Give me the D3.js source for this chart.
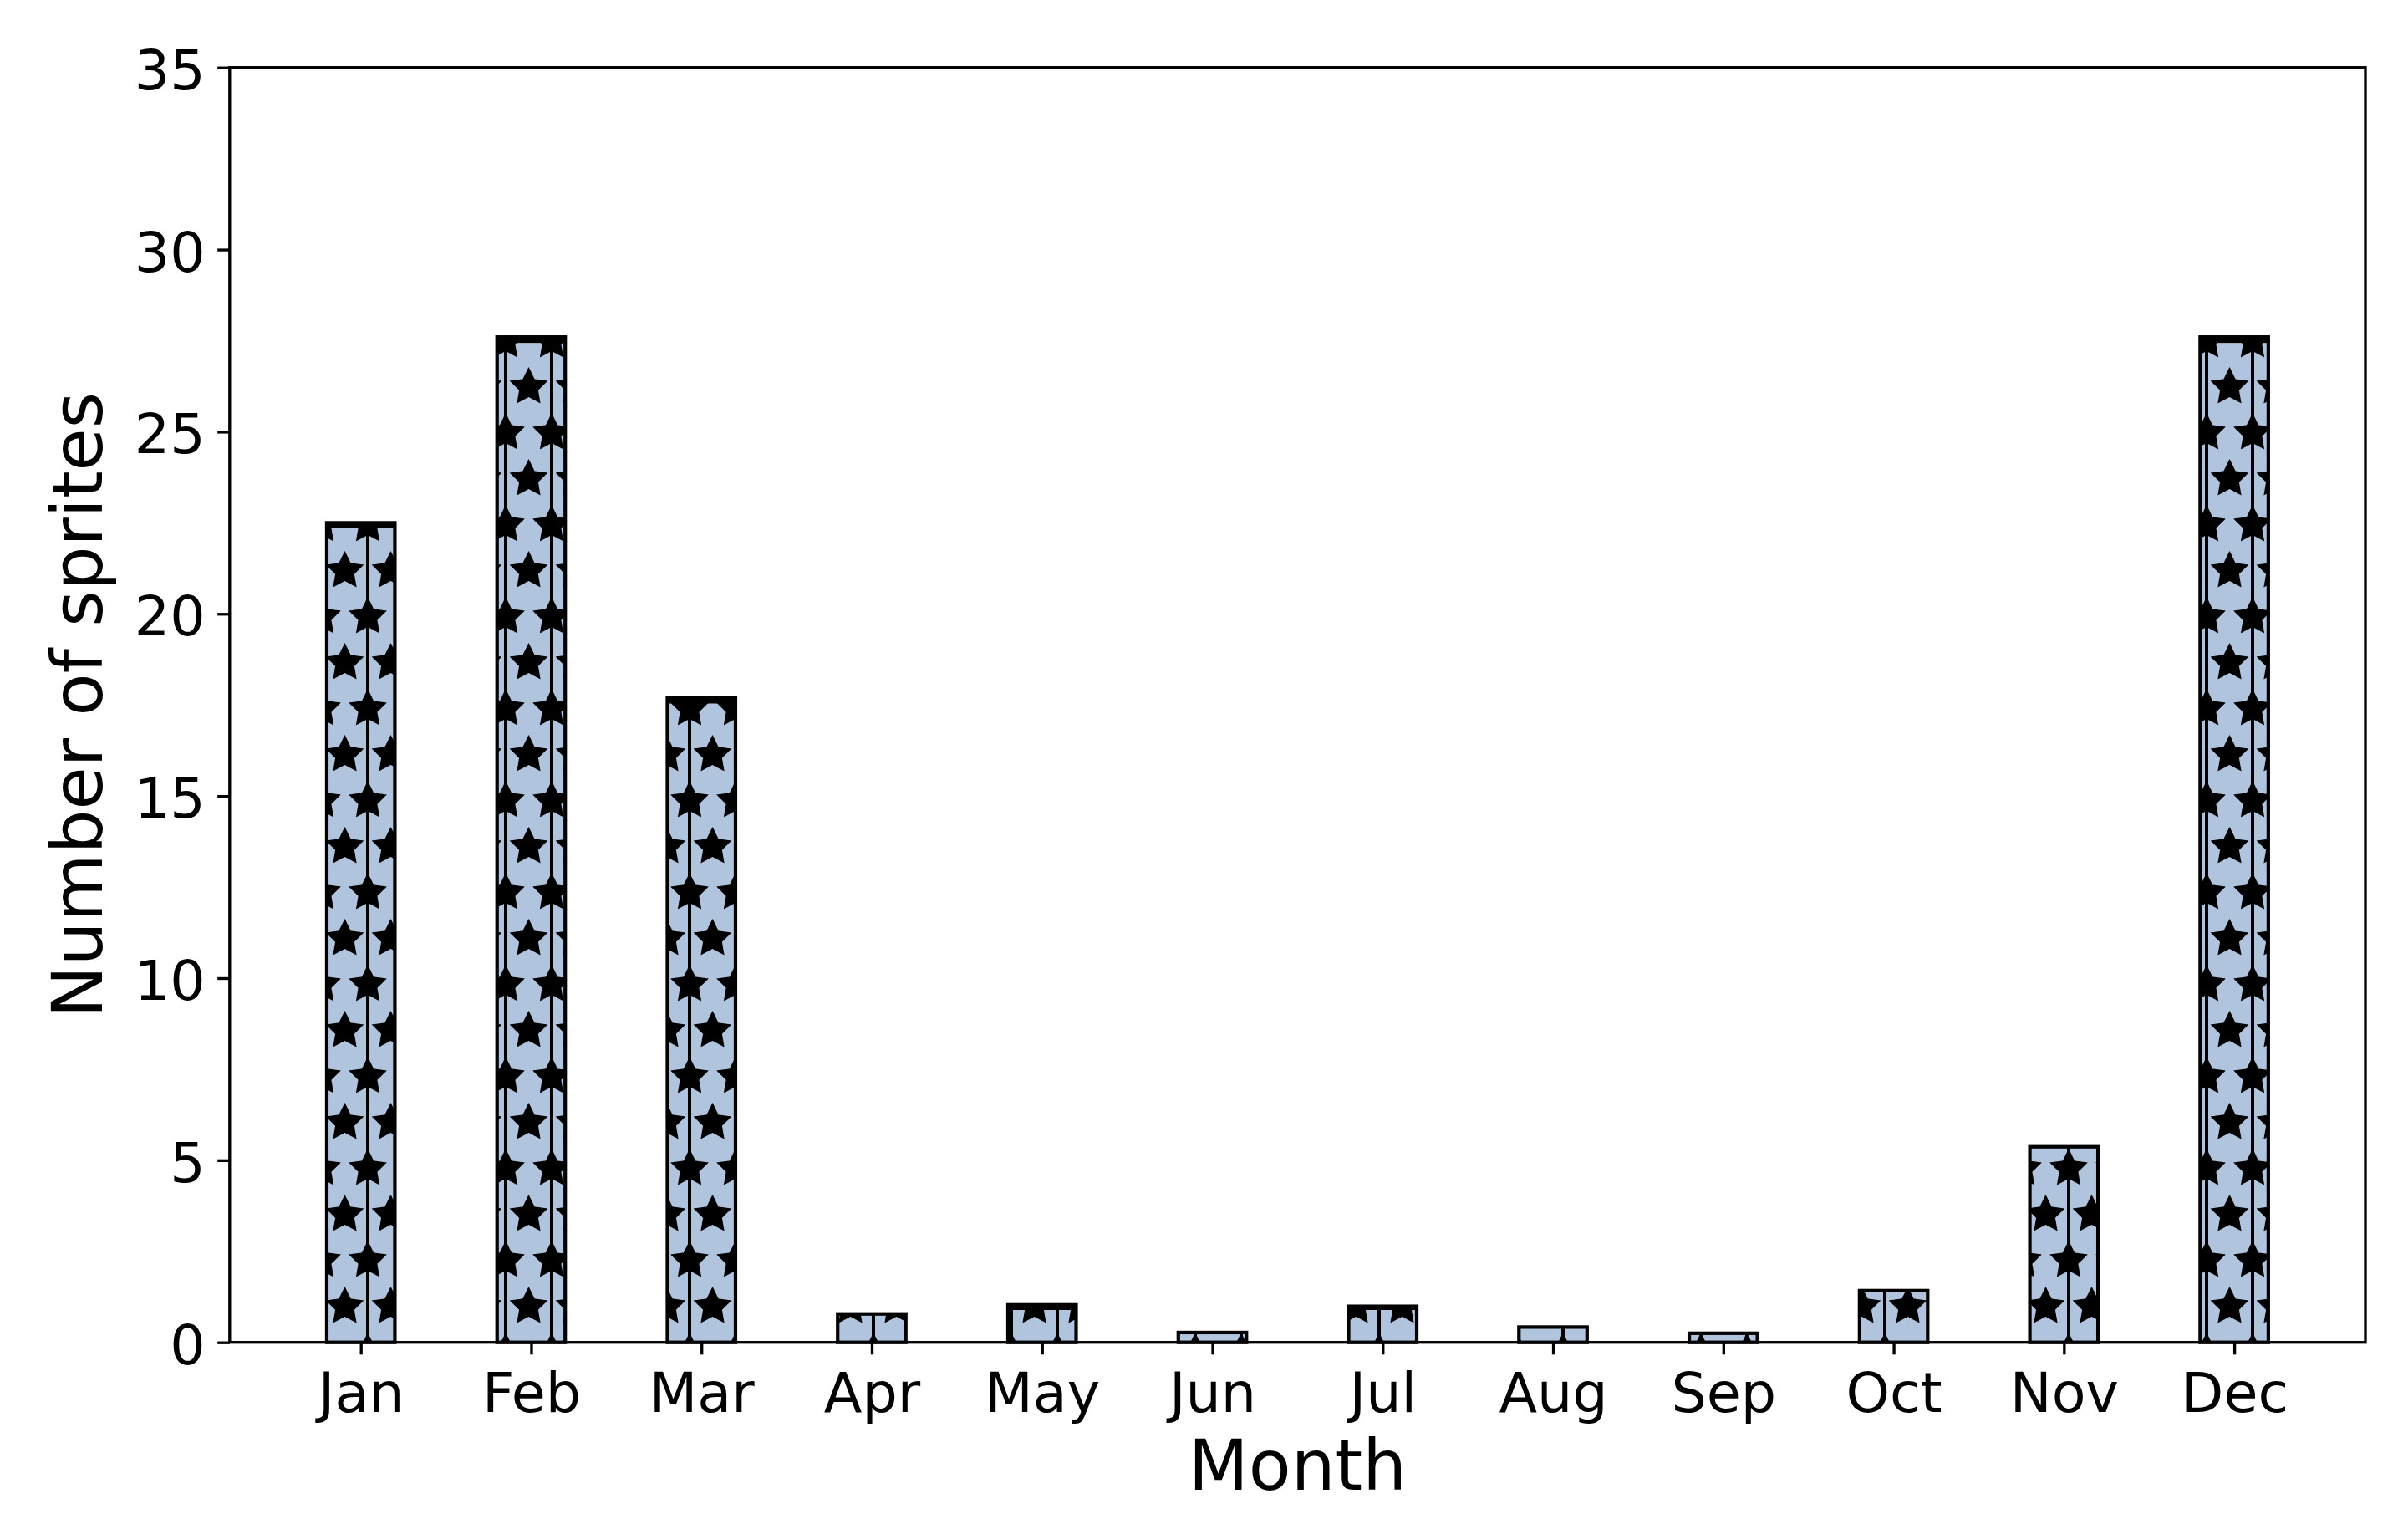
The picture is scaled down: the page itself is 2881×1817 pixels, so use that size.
<!DOCTYPE html>
<html>
<head>
<meta charset="utf-8">
<script src="https://cdn.jsdelivr.net/npm/d3@7"></script>
<style>
  html, body { margin: 0; padding: 0; background: #ffffff; }
  svg { display: block; }
  text { font-family: "DejaVu Sans", sans-serif; fill: #000; }
</style>
</head>
<body>
<svg id="chart" width="2881" height="1817"></svg>
<script>
// ---- data ----
const months = ["Jan", "Feb", "Mar", "Apr", "May", "Jun", "Jul", "Aug", "Sep", "Oct", "Nov", "Dec"];
const sprites = [22.5, 27.6, 17.7, 0.78, 1.03, 0.27, 0.99, 0.42, 0.25, 1.42, 5.37, 27.6];
const yTicks = [0, 5, 10, 15, 20, 25, 30, 35];
const xLabel = "Month";
const yLabel = "Number of sprites";

// ---- layout ----
const W = 2881, H = 1817;
const plot = { left: 274.8, right: 2830, top: 80.7, bottom: 1605.7 };
const barWidth = 0.4;
const fillColor = "#b0c4de";

const svg = d3.select("#chart");

const x = d3.scaleLinear()
  .domain([-0.2 - 0.57, months.length - 1 + 0.2 + 0.57])
  .range([plot.left, plot.right]);
const y = d3.scaleLinear().domain([0, 35]).range([plot.bottom, plot.top]);

// ---- star hatch pattern (absolute, figure-anchored lattice) ----
const hs = 55;          // hatch spacing
const hx0 = 2475, hy0 = 1398;
const starR = 19.5;
function starPath(cx, cy, r) {
  const pts = [];
  for (let i = 0; i < 10; i++) {
    const a = -Math.PI / 2 + i * Math.PI / 5;
    const rr = i % 2 === 0 ? r : r * 0.5;
    pts.push([cx + rr * Math.cos(a), cy + rr * Math.sin(a)]);
  }
  return "M" + pts.map(p => p[0].toFixed(2) + "," + p[1].toFixed(2)).join("L") + "Z";
}
const defs = svg.append("defs");
const pat = defs.append("pattern")
  .attr("id", "stars")
  .attr("patternUnits", "userSpaceOnUse")
  .attr("x", hx0).attr("y", hy0)
  .attr("width", hs).attr("height", 2 * hs);
[[0, 0], [hs, 0], [0, 2 * hs], [hs, 2 * hs], [hs / 2, hs]].forEach(([cx, cy]) => {
  pat.append("path").attr("d", starPath(cx, cy, starR))
    .attr("fill", "#000").attr("stroke", "#000").attr("stroke-width", 4).attr("stroke-linejoin", "miter");
});
[0, hs].forEach(lx => {
  pat.append("line").attr("x1", lx).attr("x2", lx).attr("y1", -1).attr("y2", 2 * hs + 1)
    .attr("stroke", "#000").attr("stroke-width", 4);
});

// ---- bars ----
const bars = svg.append("g").attr("class", "bars");
months.forEach((m, i) => {
  const x0 = x(i - barWidth / 2), x1 = x(i + barWidth / 2);
  const yt = y(sprites[i]), yb = y(0);
  const g = bars.append("g");
  g.append("rect").attr("x", x0).attr("y", yt).attr("width", x1 - x0).attr("height", yb - yt)
    .attr("fill", fillColor);
  g.append("rect").attr("x", x0).attr("y", yt).attr("width", x1 - x0).attr("height", yb - yt)
    .attr("fill", "url(#stars)");
  // dark band where a star row sits just under the bar top
  const j = Math.ceil((yt - hy0) / hs);
  const ry = hy0 + j * hs;
  const d = ry - yt;
  if (d >= 0 && d < 16) {
    const bh = Math.min(d + 4, 7);
    if (bh > 0 && yb - yt > bh) {
      g.append("rect").attr("x", x0).attr("y", yt).attr("width", x1 - x0).attr("height", bh)
        .attr("fill", "#000");
    }
  }
  g.append("rect").attr("x", x0).attr("y", yt).attr("width", x1 - x0).attr("height", yb - yt)
    .attr("fill", "none").attr("stroke", "#000").attr("stroke-width", 4.2);
});

// ---- axes ----
const fsTick = 66.7, fsLabel = 83.3;
const xAxis = d3.axisBottom(x).tickValues(d3.range(months.length)).tickFormat(i => months[i])
  .tickSize(14.6).tickPadding(14.6);
const gx = svg.append("g").attr("transform", `translate(0,${plot.bottom})`).call(xAxis);
gx.select(".domain").remove();
gx.selectAll(".tick line").attr("stroke", "#000").attr("stroke-width", 3.33);
gx.selectAll(".tick text").attr("font-size", fsTick).attr("dy", null)
  .attr("y", 1689 - plot.bottom).attr("font-family", "DejaVu Sans");

const yAxis = d3.axisLeft(y).tickValues(yTicks).tickFormat(d3.format("d"))
  .tickSize(14.6).tickPadding(14.6);
const gy = svg.append("g").attr("transform", `translate(${plot.left},0)`).call(yAxis);
gy.select(".domain").remove();
gy.selectAll(".tick line").attr("stroke", "#000").attr("stroke-width", 3.33);
gy.selectAll(".tick text").attr("font-size", fsTick).attr("dy", null).attr("y", 25.5)
  .attr("font-family", "DejaVu Sans");

// frame
svg.append("rect").attr("x", plot.left).attr("y", plot.top)
  .attr("width", plot.right - plot.left).attr("height", plot.bottom - plot.top)
  .attr("fill", "none").attr("stroke", "#000").attr("stroke-width", 3.33);

// labels
svg.append("text").attr("x", (plot.left + plot.right) / 2).attr("y", 1781.7)
  .attr("text-anchor", "middle").attr("font-size", fsLabel).text(xLabel);
svg.append("text").attr("transform", `translate(122,${(plot.top + plot.bottom) / 2}) rotate(-90)`)
  .attr("text-anchor", "middle").attr("font-size", fsLabel).text(yLabel);
</script>
</body>
</html>
